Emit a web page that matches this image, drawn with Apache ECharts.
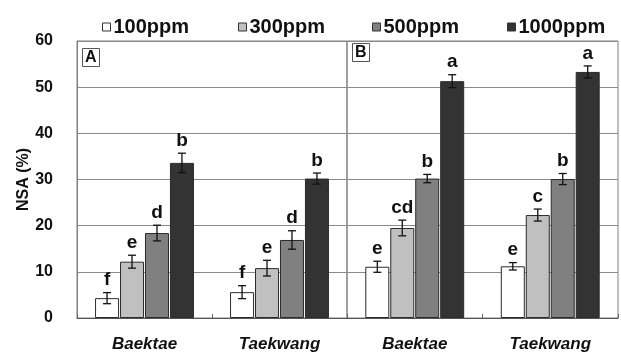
<!DOCTYPE html>
<html>
<head>
<meta charset="utf-8">
<script src="https://cdn.jsdelivr.net/npm/echarts@6/dist/echarts.min.js"></script>
<style>html,body{margin:0;padding:0;background:#fff}#c{width:621px;height:353px}</style>
</head>
<body>
<div id="c"></div>
<script>
var categories = ['Baektae', 'Taekwang'];
var doses = ['100ppm', '300ppm', '500ppm', '1000ppm'];
var yTicks = [0, 10, 20, 30, 40, 50, 60];

// Panel A
var A_100 = [4.3, 5.6];
var A_300 = [12.2, 10.8];
var A_500 = [18.4, 16.9];
var A_1000 = [33.6, 30.2];
var A_err100 = [1.2, 1.4];
var A_err300 = [1.4, 1.7];
var A_err500 = [1.7, 2.0];
var A_err1000 = [2.1, 1.2];
var A_let100 = ['f', 'f'];
var A_let300 = ['e', 'e'];
var A_let500 = ['d', 'd'];
var A_let1000 = ['b', 'b'];

// Panel B
var B_100 = [11.1, 11.2];
var B_300 = [19.5, 22.3];
var B_500 = [30.2, 30.1];
var B_1000 = [51.3, 53.3];
var B_err100 = [1.2, 0.8];
var B_err300 = [1.7, 1.3];
var B_err500 = [0.9, 1.2];
var B_err1000 = [1.4, 1.3];
var B_let100 = ['e', 'e'];
var B_let300 = ['cd', 'c'];
var B_let500 = ['b', 'b'];
var B_let1000 = ['a', 'a'];

var colors = ['#ffffff', '#c0c0c0', '#808080', '#333333'];
var FONT = '"Liberation Sans Narrow","Arial Narrow","Liberation Sans",sans-serif';
var BAR_W = 24;
var GAP_RATIO = 0.04;

var panelVals = [[A_100, A_300, A_500, A_1000], [B_100, B_300, B_500, B_1000]];
var panelErrs = [[A_err100, A_err300, A_err500, A_err1000], [B_err100, B_err300, B_err500, B_err1000]];
var panelLets = [[A_let100, A_let300, A_let500, A_let1000], [B_let100, B_let300, B_let500, B_let1000]];

var series = [];
for (var p = 0; p < 2; p++) {
  for (var i = 0; i < 4; i++) {
    series.push({
      name: doses[i], type: 'bar', xAxisIndex: p, yAxisIndex: p,
      data: panelVals[p][i], barWidth: BAR_W, barGap: (GAP_RATIO * 100) + '%',
      itemStyle: { color: colors[i], borderColor: '#2a2a2a', borderWidth: 1 },
      z: 2
    });
  }
}
for (var p2 = 0; p2 < 2; p2++) {
  for (var j = 0; j < 4; j++) {
    (function (p, i) {
      var d = panelVals[p][i].map(function (v, k) {
        return [k, v, panelErrs[p][i][k], panelLets[p][i][k]];
      });
      series.push({
        type: 'custom', xAxisIndex: p, yAxisIndex: p, z: 5,
        data: d,
        encode: { x: 0, y: 1 },
        renderItem: function (params, api) {
          var k = api.value(0), v = api.value(1), e = api.value(2);
          var letter = d[params.dataIndex][3];
          var off = (i - 1.5) * (BAR_W * (1 + GAP_RATIO));
          var cx = api.coord([k, 0])[0] + off;
          var yt = api.coord([k, v + e])[1];
          var yb = api.coord([k, v - e])[1];
          var cap = 4;
          var ls = { stroke: '#111', lineWidth: 1.3 };
          return {
            type: 'group',
            children: [
              { type: 'line', shape: { x1: cx, y1: yt, x2: cx, y2: yb }, style: ls },
              { type: 'line', shape: { x1: cx - cap, y1: yt, x2: cx + cap, y2: yt }, style: ls },
              { type: 'line', shape: { x1: cx - cap, y1: yb, x2: cx + cap, y2: yb }, style: ls },
              { type: 'text', x: cx, y: yt - 3,
                style: { text: letter, textAlign: 'center', textVerticalAlign: 'bottom',
                  font: 'bold 19px ' + FONT, fill: '#111' } }
            ]
          };
        }
      });
    })(p2, j);
  }
}

function legendAt(name, left) {
  return {
    data: [name], left: left, top: 12, itemWidth: 8, itemHeight: 8,
    icon: 'rect', selectedMode: false,
    itemStyle: { borderColor: '#333', borderWidth: 1 },
    textStyle: { fontFamily: FONT, fontWeight: 'bold', fontSize: 20, color: '#111', padding: [0, 0, 0, -2] }
  };
}

var yAxisBase = {
  type: 'value', min: yTicks[0], max: yTicks[yTicks.length - 1], interval: 10,
  splitLine: { show: true, lineStyle: { color: '#8a8a8a', width: 1 } },
  axisTick: { show: false }
};

var option = {
  animation: false,
  backgroundColor: '#ffffff',
  title: [
    { text: 'A', left: 82, top: 48, borderColor: '#555', borderWidth: 1, padding: [2, 3, 1, 3],
      backgroundColor: '#fff',
      textStyle: { fontFamily: FONT, fontWeight: 'bold', fontSize: 16, color: '#111' } },
    { text: 'B', left: 352, top: 43, borderColor: '#555', borderWidth: 1, padding: [2, 3, 1, 3],
      backgroundColor: '#fff',
      textStyle: { fontFamily: FONT, fontWeight: 'bold', fontSize: 16, color: '#111' } }
  ],
  legend: [legendAt(doses[0], 97), legendAt(doses[1], 233), legendAt(doses[2], 367), legendAt(doses[3], 502)],
  grid: [
    { left: 77, width: 270, top: 41, bottom: 34, show: true, borderColor: '#808080', borderWidth: 1 },
    { left: 347, width: 271, top: 41, bottom: 34, show: true, borderColor: '#808080', borderWidth: 1 }
  ],
  xAxis: [0, 1].map(function (g) {
    return {
      type: 'category', gridIndex: g, data: categories,
      axisLine: { lineStyle: { color: '#555' } },
      axisTick: { show: true, inside: true, length: 4, lineStyle: { color: '#666' } },
      axisLabel: { margin: 18, fontFamily: FONT, fontStyle: 'italic', fontWeight: 'bold', fontSize: 17, color: '#111' }
    };
  }),
  yAxis: [
    Object.assign({}, yAxisBase, {
      gridIndex: 0,
      name: 'NSA (%)', nameLocation: 'middle', nameGap: 42, nameRotate: 90,
      nameTextStyle: { fontFamily: FONT, fontWeight: 'bold', fontSize: 16, color: '#111', padding: [0, 0, 0, 0] },
      axisLine: { show: true, lineStyle: { color: '#808080' } },
      axisLabel: { margin: 24, fontFamily: FONT, fontWeight: 'bold', fontSize: 16, color: '#111', padding: [6, 0, 0, 0] }
    }),
    Object.assign({}, yAxisBase, {
      gridIndex: 1,
      axisLine: { show: false },
      axisLabel: { show: false }
    })
  ],
  series: series
};

var chart = echarts.init(document.getElementById('c'), null, { renderer: 'canvas' });
chart.setOption(option);
</script>
</body>
</html>
